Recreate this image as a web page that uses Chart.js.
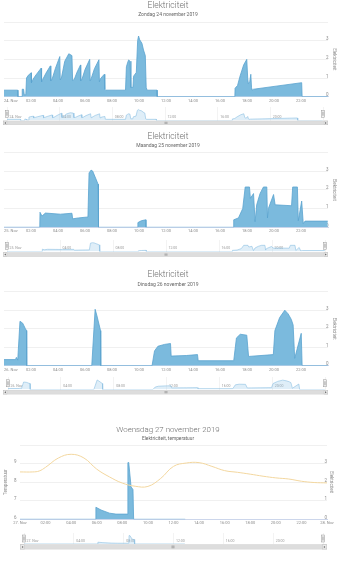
<!DOCTYPE html>
<html><head><meta charset="utf-8">
<script src="https://cdn.jsdelivr.net/npm/chart.js@4"></script>
<style>
html,body{margin:0;padding:0;background:#fff;width:350px;height:563px;overflow:hidden}
#wrap{position:relative;width:350px;height:563px}
canvas{position:absolute;left:0}
</style></head><body>
<div id="wrap"></div>
<script>
// ---------- DATA ----------
const dayLabels = ['24. Nov', '25. Nov', '26. Nov', '27. Nov', '28. Nov'];
const titles = ['Elektriciteit', 'Elektriciteit', 'Elektriciteit', 'Woensdag 27 november 2019'];
const subtitles = ['Zondag 24 november 2019', 'Maandag 25 november 2019', 'Dinsdag 26 november 2019', 'Elektriciteit, temperatuur'];

const sunTimes = ['00:00','01:01','01:02','01:20','01:21','01:27','01:30','01:37','01:40','01:48','02:01','02:02','02:05','02:18','02:45','02:47','02:51','03:06','03:26','03:28','03:34','03:48','04:08','04:10','04:15','04:30','04:48','05:02','05:05','05:13','05:24','05:40','05:41','05:47','06:00','06:21','06:23','06:27','06:42','07:02','07:04','07:08','07:18','07:26','07:28','07:32','09:00','09:04','09:10','09:14','09:20','09:24','09:33','09:36','09:48','09:54','09:58','10:03','10:13','10:20','10:28','10:32','10:36','11:20','11:21','17:06','17:07','17:18','17:29','17:45','17:59','18:03','18:06','18:12','18:17','18:20','18:23','18:29','20:00','22:03','22:05','23:59'];
const sunKw    = [0.35,0.35,0,0,0.4,0.4,0.1,0.1,1.0,1.15,1.28,0.75,0.85,1.1,1.53,0.8,0.9,1.25,1.65,0.85,0.95,1.5,2.15,0.9,1.0,1.9,2.3,2.2,0.85,0.95,1.3,1.7,0.85,0.95,1.45,2.0,0.85,0.95,1.5,1.98,0.8,0.95,1.1,1.2,0.4,0.35,0.35,1.6,1.85,1.97,1.9,0.5,0.5,1.1,1.3,3.0,3.25,3.05,2.86,2.5,2.2,0.5,0.35,0.35,0,0,0.45,0.6,1.1,1.7,2.0,1.0,0.7,0.8,1.2,0.5,0.35,0.4,0.55,0.75,0,0];

const monTimes = ['00:00','02:39','02:40','02:49','03:04','04:11','05:02','05:05','05:30','06:13','06:18','06:27','06:34','06:53','06:58','07:00','09:54','09:55','10:10','10:30','10:31','17:00','17:01','17:22','17:41','17:52','18:11','18:15','18:29','18:36','18:43','18:58','19:13','19:28','19:31','19:35','19:58','20:05','21:18','21:23','21:44','21:48','22:03','22:10','22:18','23:59'];
const monKw    = [0,0,0.8,0.6,0.76,0.7,0.75,0.45,0.5,0.55,2.9,3.05,3.0,2.45,2.3,0,0,0.25,0.35,0.4,0,0,0.4,0.5,1.0,2.15,2.15,1.55,1.8,0.3,1.2,1.8,2.15,2.15,0.5,1.0,1.75,1.2,1.15,2.15,2.15,0.35,1.4,0.2,0.33,0.33];

const tueTimes = ['00:00','00:51','00:55','01:01','01:11','01:23','01:35','01:40','01:41','06:30','06:45','06:53','07:03','07:09','07:10','10:58','11:09','11:24','11:53','12:20','12:23','13:30','14:20','14:23','17:01','17:13','17:30','17:59','18:07','19:57','20:04','20:25','20:48','21:03','21:17','21:25','21:32','22:01','22:05','23:59'];
const tueKw    = [0.33,0.33,0.45,0.3,2.4,2.3,2.0,1.9,0,0,3.05,2.7,2.2,1.9,0,0,0.8,1.05,1.15,1.2,0.52,0.55,0.6,0.27,0.27,1.5,1.7,1.65,0.5,0.6,1.9,2.6,3.0,2.8,2.5,2.2,0.4,1.75,0,0];

const wedTimes = ['00:00','05:55','05:56','06:20','07:00','07:30','08:25','08:26','08:30','08:41','08:50','08:53','12:55'];
const wedKw    = [0,0,0.65,0.5,0.33,0.28,0.28,3.05,3.06,1.75,1.6,0,0];

const tempTimes = ['00:00','01:00','01:30','02:00','03:00','04:00','05:00','06:00','07:00','08:00','09:00','10:00','11:00','12:00','13:00','14:00','15:00','16:00','17:00','18:00','19:00','20:00','21:00','22:00','23:00','24:00'];
const tempC     = [8.55,8.55,8.6,8.8,9.3,9.5,9.3,8.7,8.28,7.95,7.78,7.77,8.2,8.85,9.03,9.05,8.85,8.62,8.53,8.43,8.32,8.23,8.17,8.05,7.98,7.96];

// ---------- HELPERS ----------
const W = 350;
const FONT = 'Roboto, "Liberation Sans", sans-serif';
const LBL = '#8c8c8c';
const hm = s => { const [h, m] = s.split(':').map(Number); return h + m / 60; };
const series = (t, v) => t.map((s, i) => ({x: hm(s), y: v[i]}));
const hh = n => String(n).padStart(2, '0') + ':00';
const wrap = document.getElementById('wrap');
function addCanvas(top, h) {
  const c = document.createElement('canvas');
  c.width = W; c.height = h;
  c.style.top = top + 'px'; c.style.width = W + 'px'; c.style.height = h + 'px';
  wrap.appendChild(c);
  return c;
}
const elecStyle = {type: 'line', fill: 'origin', backgroundColor: '#7bbadd', borderColor: '#5aa3cf',
  borderWidth: 0.8, pointRadius: 0, tension: 0, yAxisID: 'y'};

function makeMain(o) {
  const c = addCanvas(o.top, o.h);
  const rel = v => v - o.top;
  const heads = {id: 'heads', afterDraw(chart) {
    const ctx = chart.ctx; ctx.save();
    ctx.textAlign = 'center'; ctx.textBaseline = 'middle';
    ctx.fillStyle = '#6e6e6e'; ctx.font = `300 ${o.tSize}px ${FONT}`;
    ctx.fillText(o.title, o.cx, rel(o.ty));
    ctx.fillStyle = '#666'; ctx.font = `${o.sSize}px ${FONT}`;
    ctx.fillText(o.sub, o.cx, rel(o.sy));
    ctx.restore();
  }};
  const scales = {
    x: {type: 'linear', min: 0, max: 24, position: 'bottom',
      grid: {display: false, drawTicks: false}, border: {display: true, color: '#ccd6eb', width: 1},
      ticks: {stepSize: 2, autoSkip: false, maxRotation: 0, align: o.xAlign, padding: 1.6, color: LBL,
        font: {family: FONT, size: 4}, callback: v => v === 0 ? o.day0 : (v === 24 ? o.day1 : hh(v))},
      afterFit: s => { s.height = o.h - rel(o.plotBottom); s.paddingLeft = 0; s.paddingRight = 0; }},
    y: {type: 'linear', position: 'right', min: 0, max: 4,
      grid: {display: !o.temp, color: '#e9e9e9', drawTicks: false, lineWidth: 0.7}, border: {display: false},
      ticks: {stepSize: 1, mirror: true, padding: o.yPad, labelOffset: -1.5, color: LBL,
        font: {family: FONT, size: 4.5}, callback: v => v === 4 ? '' : String(v)},
      title: {display: true, text: 'Elektriciteit', color: LBL, font: {family: FONT, size: 4.5}, padding: {top: o.rTitlePad, bottom: 0}},
      afterFit: s => { s.width = W - o.plotRight; s.paddingTop = 0; s.paddingBottom = 0; }}
  };
  const datasets = [Object.assign({data: o.data, order: 1}, elecStyle)];
  if (o.temp) {
    scales.yT = {type: 'linear', position: 'left', min: 6, max: 10,
      grid: {color: '#e9e9e9', drawTicks: false, lineWidth: 0.7}, border: {display: false},
      ticks: {stepSize: 1, padding: 3.5, labelOffset: -1.5, color: LBL, font: {family: FONT, size: 4.5},
        callback: v => v === 10 ? '' : String(v)},
      title: {display: true, text: 'Temperatuur', color: LBL, font: {family: FONT, size: 4.5}, padding: {top: 3.3, bottom: 0}},
      afterFit: s => { s.width = o.plotLeft; s.paddingTop = 0; s.paddingBottom = 0; }};
    datasets.push({type: 'line', data: o.temp, yAxisID: 'yT', borderColor: '#f3d79f', borderWidth: 1,
      pointRadius: 0, tension: 0.4, fill: false, order: 0});
  }
  return new Chart(c, {
    type: 'line',
    data: {datasets},
    options: {
      responsive: false, animation: false, devicePixelRatio: 1,
      layout: {padding: {top: rel(o.plotTop), left: o.temp ? 0 : o.plotLeft, right: 0, bottom: 0}},
      plugins: {legend: {display: false}, tooltip: {enabled: false}, title: {display: false}},
      scales
    },
    plugins: [heads]
  });
}

function makeNav(o) {
  const c = addCanvas(o.top, o.h);
  const rel = v => v - o.top;
  const deco = {id: 'navdeco', afterDraw(chart) {
    const ctx = chart.ctx; const a = chart.chartArea; ctx.save();
    // handles
    const yc = (a.top + a.bottom) / 2;
    [a.left, a.right].forEach(x => {
      const w = 3.4, h = 7;
      ctx.fillStyle = '#f2f2f2'; ctx.fillRect(x - w / 2, yc - h / 2, w, h);
      ctx.strokeStyle = '#9a9a9a'; ctx.lineWidth = 0.5; ctx.strokeRect(x - w / 2, yc - h / 2, w, h);
      ctx.beginPath(); ctx.moveTo(x - 0.5, yc - 2); ctx.lineTo(x - 0.5, yc + 2);
      ctx.moveTo(x + 0.6, yc - 2); ctx.lineTo(x + 0.6, yc + 2); ctx.stroke();
    });
    // scrollbar
    const l = o.sbL, r = o.sbR, t = rel(o.sbT), b = rel(o.sbB), h = b - t;
    ctx.fillStyle = '#eeeeee'; ctx.fillRect(l, t, r - l, h);
    ctx.fillStyle = '#dddddd'; ctx.fillRect(l + h, t + 0.5, r - l - 2 * h, h - 1);
    ctx.strokeStyle = '#cccccc'; ctx.lineWidth = 0.5; ctx.strokeRect(l + 0.25, t + 0.25, r - l - 0.5, h - 0.5);
    [l, r - h].forEach(bx => {
      ctx.fillStyle = '#ebebeb'; ctx.fillRect(bx, t, h, h);
      ctx.strokeStyle = '#bbbbbb'; ctx.strokeRect(bx + 0.25, t + 0.25, h - 0.5, h - 0.5);
    });
    ctx.fillStyle = '#555';
    const m = t + h / 2;
    ctx.beginPath(); ctx.moveTo(l + h / 2 - 0.8, m); ctx.lineTo(l + h / 2 + 0.7, m - 1); ctx.lineTo(l + h / 2 + 0.7, m + 1); ctx.fill();
    ctx.beginPath(); ctx.moveTo(r - h / 2 + 0.8, m); ctx.lineTo(r - h / 2 - 0.7, m - 1); ctx.lineTo(r - h / 2 - 0.7, m + 1); ctx.fill();
    const cx = o.grip;
    ctx.strokeStyle = '#666'; ctx.lineWidth = 0.4; ctx.beginPath();
    [-1, 0, 1].forEach(d => { ctx.moveTo(cx + d, t + 1); ctx.lineTo(cx + d, b - 1); });
    ctx.stroke();
    ctx.restore();
  }};
  return new Chart(c, {
    type: 'line',
    data: {datasets: [{data: o.data, fill: 'origin', backgroundColor: 'rgba(150,200,232,0.3)',
      borderColor: '#8cc0e2', borderWidth: 0.6, pointRadius: 0, tension: 0}]},
    options: {
      responsive: false, animation: false, devicePixelRatio: 1,
      layout: {padding: {top: rel(o.navTop), left: o.navLeft, right: W - o.navRight, bottom: 0}},
      plugins: {legend: {display: false}, tooltip: {enabled: false}},
      scales: {
        x: {type: 'linear', min: 0, max: 24, position: 'bottom',
          grid: {color: '#e6e6e6', lineWidth: 0.5, drawTicks: false}, border: {display: false},
          ticks: {stepSize: 4, autoSkip: false, maxRotation: 0, mirror: true, align: 'start', labelOffset: 2.5,
            padding: 0.8, color: '#999', font: {family: FONT, size: 3.5},
            callback: v => v === 0 ? o.day0 : (v === 24 ? '' : hh(v))},
          afterFit: s => { s.height = o.h - rel(o.navBottom); s.paddingLeft = 0; s.paddingRight = 0; }},
        y: {display: false, min: 0, max: 4}
      }
    },
    plugins: [deco]
  });
}

// ---------- CHARTS ----------
const sun = series(sunTimes, sunKw), mon = series(monTimes, monKw), tue = series(tueTimes, tueKw);
const wed = series(wedTimes, wedKw), temp = series(tempTimes, tempC);

const base = {plotLeft: 4, plotRight: 328, cx: 168, tSize: 8.5, sSize: 5, xAlign: 'inner', yPad: 0.5, rTitlePad: 13.5, day1: ''};
makeMain(Object.assign({}, base, {top: 0, h: 104, ty: 6, sy: 15, plotTop: 22, plotBottom: 96.7,
  title: titles[0], sub: subtitles[0], day0: dayLabels[0], data: sun}));
makeNav({top: 104, h: 22, navTop: 107, navBottom: 120.5, navLeft: 7, navRight: 323, sbL: 3, sbR: 328, sbT: 120.8, sbB: 125, grip: 166, day0: dayLabels[0], data: sun});

makeMain(Object.assign({}, base, {top: 128, h: 109, ty: 136.7, sy: 146, plotTop: 152.3, plotBottom: 227.3,
  title: titles[1], sub: subtitles[1], day0: dayLabels[1], data: mon}));
makeNav({top: 237, h: 21, navTop: 240, navBottom: 251.5, navLeft: 7, navRight: 325, sbL: 3, sbR: 328, sbT: 252.5, sbB: 256.7, grip: 166, day0: dayLabels[1], data: mon});

makeMain(Object.assign({}, base, {top: 262, h: 112, ty: 275, sy: 285, plotTop: 291.7, plotBottom: 365.7,
  title: titles[2], sub: subtitles[2], day0: dayLabels[2], data: tue}));
makeNav({top: 374, h: 21, navTop: 377, navBottom: 389.5, navLeft: 8, navRight: 325, sbL: 3, sbR: 328, sbT: 390, sbB: 394.3, grip: 166, day0: dayLabels[2], data: tue});

makeMain({top: 415, h: 114, ty: 430, sy: 439, plotTop: 445, plotBottom: 519.3, plotLeft: 20, plotRight: 327,
  cx: 168, tSize: 7.9, sSize: 4.8, xAlign: 'center', yPad: 0, rTitlePad: 16.3,
  title: titles[3], sub: subtitles[3], day0: dayLabels[3], day1: dayLabels[4], data: wed, temp: temp});
makeNav({top: 529, h: 22, navTop: 533, navBottom: 544, navLeft: 24, navRight: 323, sbL: 20, sbR: 327, sbT: 544.5, sbB: 549.3, grip: 173, day0: dayLabels[3], data: wed});
</script>
</body></html>
